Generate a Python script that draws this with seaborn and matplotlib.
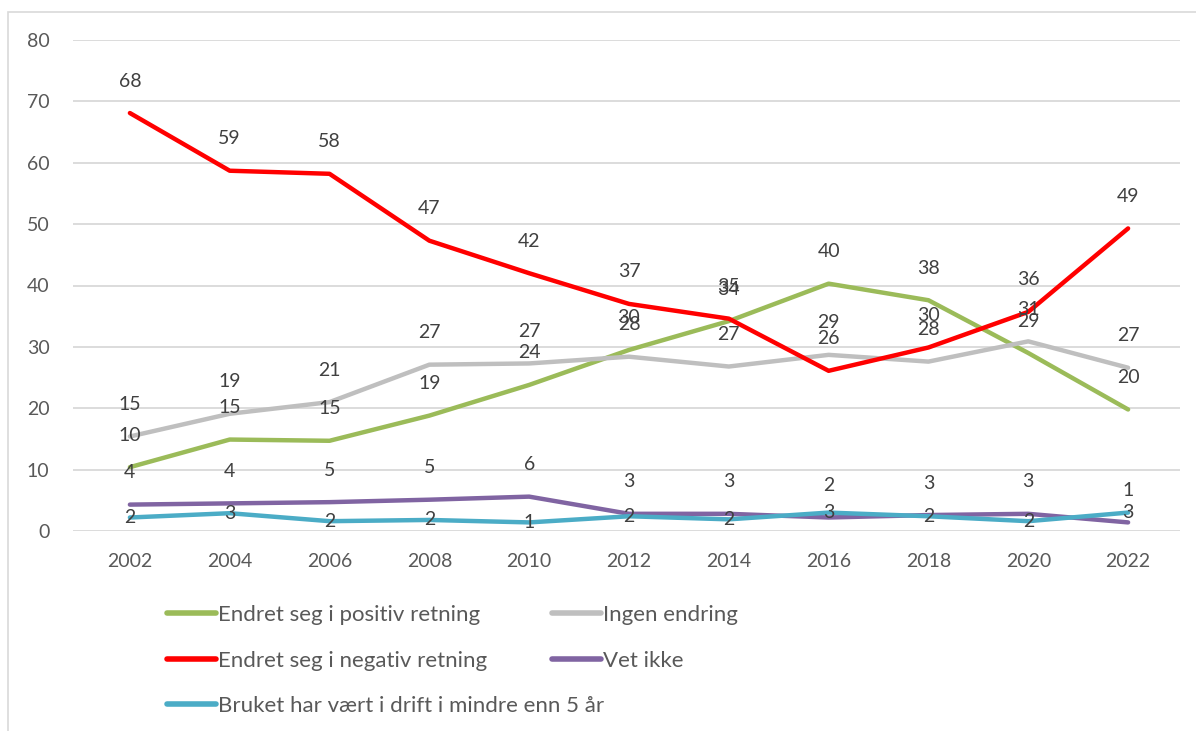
import pandas as pd
import seaborn as sns
import matplotlib.pyplot as plt
from matplotlib.patches import Rectangle

# -----------------------------
# data
# -----------------------------
years = ["2002", "2004", "2006", "2008", "2010", "2012", "2014", "2016", "2018", "2020", "2022"]

positiv = [10.4, 14.9, 14.7, 18.8, 23.8, 29.5, 34.2, 40.3, 37.6, 29.0, 19.8]
ingen = [15.4, 19.1, 21.0, 27.1, 27.3, 28.4, 26.8, 28.7, 27.6, 30.9, 26.6]
negativ = [68.1, 58.7, 58.2, 47.3, 42.0, 37.0, 34.6, 26.1, 29.9, 35.7, 49.3]
vet_ikke = [4.3, 4.5, 4.7, 5.1, 5.6, 2.8, 2.8, 2.2, 2.6, 2.8, 1.4]
mindre_5 = [2.2, 2.9, 1.6, 1.8, 1.4, 2.4, 1.9, 3.0, 2.4, 1.6, 3.0]

series_names = [
    "Endret seg i positiv retning",
    "Ingen endring",
    "Endret seg i negativ retning",
    "Vet ikke",
    "Bruket har vært i drift i mindre enn 5 år",
]
series_values = [positiv, ingen, negativ, vet_ikke, mindre_5]
colors = ["#9BBB59", "#BFBFBF", "#FF0000", "#8064A2", "#4BACC6"]
# label offset above the point (points); the last series has labels centred on the line
label_offsets = [23, 23, 23, 23, 0]

rows = []
for name, vals in zip(series_names, series_values):
    for i, (yr, v) in enumerate(zip(years, vals)):
        rows.append({"pos": i, "year": yr, "value": v, "serie": name})
df = pd.DataFrame(rows)

# -----------------------------
# plot
# -----------------------------
sns.set_style("white")
plt.rcParams["font.family"] = ["Lato", "DejaVu Sans"]

fig = plt.figure(figsize=(11.96, 7.31), dpi=100)
ax = fig.add_axes([73 / 1196, 1 - 531 / 731, (1180 - 73) / 1196, (531 - 40) / 731])

# light chart border
fig.patches.append(Rectangle((8 / 1196, -0.1), 1.2, (731 - 12) / 731 + 0.1,
                             transform=fig.transFigure, fill=False,
                             edgecolor="#D9D9D9", lw=1.2, zorder=0))

sns.lineplot(data=df, x="pos", y="value", hue="serie", hue_order=series_names,
             palette=colors, linewidth=3.2, sort=False, ax=ax,
             solid_capstyle="round", zorder=3)

# data labels
for name, vals, off in zip(series_names, series_values, label_offsets):
    for i, v in enumerate(vals):
        ax.annotate(f"{v:.0f}", (i, v), xytext=(0, off), textcoords="offset points",
                    ha="center", va="center", fontsize=14, color="#404040", zorder=5)

ax.set_xlim(-0.57, 10.52)
ax.set_ylim(0, 80)
ax.set_yticks(range(0, 81, 10))
ax.set_xticks(range(len(years)))
ax.set_xticklabels(years)
ax.grid(axis="y", color="#D9D9D9", lw=1.3)
ax.set_axisbelow(True)
for s in ax.spines.values():
    s.set_visible(False)
ax.tick_params(axis="both", length=0, labelsize=14, labelcolor="#595959")
ax.tick_params(axis="x", pad=16)
ax.tick_params(axis="y", pad=17)
ax.set_xlabel("")
ax.set_ylabel("")

# legend: two separate columns so the long last entry can run under column two
handles, labels = ax.get_legend_handles_labels()
ax.get_legend().remove()
leg_kw = dict(loc="upper left", bbox_transform=fig.transFigure, frameon=False,
              fontsize=16, handlelength=2.2, handletextpad=0.1, labelspacing=1.15,
              borderpad=0, borderaxespad=0, labelcolor="#595959")
col1 = [0, 2, 4]
col2 = [1, 3]
leg1 = ax.legend([handles[k] for k in col1], [labels[k] for k in col1],
                 bbox_to_anchor=(167 / 1196, 1 - 605 / 731), **leg_kw)
ax.add_artist(leg1)
leg2 = ax.legend([handles[k] for k in col2], [labels[k] for k in col2],
                 bbox_to_anchor=(552 / 1196, 1 - 605 / 731), **leg_kw)
for lg in (leg1, leg2):
    for h in lg.get_lines():
        h.set_linewidth(4)
        h.set_solid_capstyle("round")

fig.savefig("out.png", dpi=100)
